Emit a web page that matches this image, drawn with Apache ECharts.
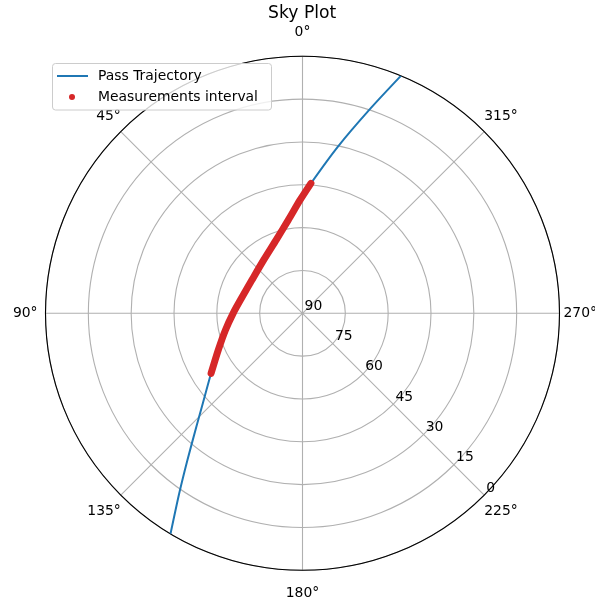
<!DOCTYPE html>
<html>
<head>
<meta charset="utf-8">
<script src="https://cdn.jsdelivr.net/npm/echarts@6/dist/echarts.min.js"></script>
<style>
  html, body { margin: 0; padding: 0; background: #ffffff; }
  #chart { width: 595px; height: 603px; }
</style>
</head>
<body>
<div id="chart"></div>
<script>
// Satellite pass: azimuth (deg) and elevation (deg) along the trajectory
const passAz = [337.5, 341.7, 348.0, 356.3, 1.2, 8.7, 19.7, 36.0, 56.7, 74.9, 90.0, 102.2, 113.6, 123.3, 132.9, 136.9, 141.9, 145.6, 149.1];
const passEl = [0.0, 14.6, 30.3, 44.4, 50.3, 57.0, 62.7, 66.9, 68.8, 68.1, 65.7, 62.4, 57.8, 51.7, 41.9, 35.6, 24.7, 13.6, 0.0];

// Portion of the pass covered by measurements
const measAz = [356.3, 1.2, 8.7, 19.7, 36.0, 56.7, 74.9, 90.0, 102.2, 113.6, 123.3];
const measEl = [44.4, 50.3, 57.0, 62.7, 66.9, 68.8, 68.1, 65.7, 62.4, 57.8, 51.7];

// Axis ticks
const azimuthStep = 45;
const elevationTicks = [0, 15, 30, 45, 60, 75, 90];

const FONT = 'DejaVu Sans';
const CX = 302.5, CY = 313.3, R = 257;

const toPolar = (az, el) => az.map((a, i) => [el[i], a]);

// Azimuth labels sit on a ring around the plot; each compass position gets its own offset
const labelStyle = (padding) => ({ fontFamily: FONT, fontSize: 13.9, color: '#000', padding });
const azLabelKey = { 0: 'n', 45: 'du', 90: 'w', 135: 'dd', 180: 's', 225: 'dd', 270: 'e', 315: 'du' };

const chart = echarts.init(document.getElementById('chart'), null, { renderer: 'canvas' });

chart.setOption({
  backgroundColor: '#ffffff',
  animation: false,
  title: {
    text: 'Sky Plot',
    left: 263,
    top: 0,
    textStyle: { fontFamily: FONT, fontSize: 17.2, fontWeight: 'normal', color: '#000' }
  },
  polar: [
    { center: [CX, CY], radius: R },
    { center: [CX, CY], radius: R }
  ],
  angleAxis: [
    {
      polarIndex: 0,
      type: 'value',
      min: 0,
      max: 360,
      interval: azimuthStep,
      startAngle: 90,
      clockwise: false,
      axisLine: { show: true, lineStyle: { color: '#000', width: 1.1 } },
      axisTick: { show: false },
      axisLabel: {
        show: true,
        margin: 0,
        formatter: (v) => '{' + (azLabelKey[v] || 'n') + '|' + v + '°}',
        fontFamily: FONT,
        fontSize: 13.9,
        color: '#000',
        rich: {
          n: labelStyle([0, 0, 17, 0]),
          s: labelStyle([16, 0, 0, 0]),
          w: labelStyle([0, 8, 0, 0]),
          e: labelStyle([0, 0, 0, 4]),
          du: labelStyle([0, 0, 8, 0]),
          dd: labelStyle([9, 0, 0, 0])
        }
      },
      splitLine: { show: true, lineStyle: { color: '#b0b0b0', width: 1.1 } }
    },
    {
      polarIndex: 1,
      type: 'value',
      min: 0,
      max: 360,
      startAngle: -45,
      show: false
    }
  ],
  radiusAxis: [
    {
      polarIndex: 0,
      type: 'value',
      min: elevationTicks[0],
      max: elevationTicks[elevationTicks.length - 1],
      interval: 15,
      inverse: true,
      axisLine: { show: false },
      axisTick: { show: false },
      axisLabel: { show: false },
      splitLine: { show: true, lineStyle: { color: '#b0b0b0', width: 1.1 } }
    },
    {
      polarIndex: 1,
      type: 'value',
      min: elevationTicks[0],
      max: elevationTicks[elevationTicks.length - 1],
      interval: 15,
      inverse: true,
      z: 5,
      axisLine: { show: false },
      axisTick: { show: false },
      splitLine: { show: false },
      axisLabel: {
        show: true,
        margin: 3,
        formatter: '{e|{value}}',
        fontFamily: FONT,
        fontSize: 13.9,
        color: '#000',
        rich: { e: labelStyle([0, 0, 10, 0]) }
      }
    }
  ],
  graphic: [{
    type: 'rect',
    z: 10,
    shape: { x: 52.5, y: 63.5, width: 219, height: 46.5, r: 3 },
    style: { fill: 'rgba(255,255,255,0.8)', stroke: '#cccccc', lineWidth: 1 }
  }],
  legend: [
    {
      z: 20,
      left: 57,
      top: 69,
      padding: 0,
      itemWidth: 31,
      itemHeight: 14,
      data: [{ name: 'Pass Trajectory', icon: 'path://M0,0H31V2H0Z' }],
      textStyle: { fontFamily: FONT, fontSize: 13.9, color: '#000', padding: [0, 0, 0, 5] }
    },
    {
      z: 20,
      left: 69,
      top: 90,
      padding: 0,
      itemWidth: 6,
      itemHeight: 6,
      data: [{ name: 'Measurements interval', icon: 'circle' }],
      textStyle: { fontFamily: FONT, fontSize: 13.9, color: '#000', padding: [0, 0, 0, 18] }
    }
  ],
  series: [
    {
      name: 'Pass Trajectory',
      type: 'line',
      coordinateSystem: 'polar',
      polarIndex: 0,
      symbol: 'none',
      smooth: 0.25,
      color: '#1f77b4',
      lineStyle: { color: '#1f77b4', width: 2 },
      data: toPolar(passAz, passEl),
      z: 3
    },
    {
      name: 'Measurements interval',
      type: 'line',
      coordinateSystem: 'polar',
      polarIndex: 0,
      symbol: 'none',
      smooth: 0.25,
      color: '#d62728',
      lineStyle: { color: '#d62728', width: 7, cap: 'round', join: 'round' },
      data: toPolar(measAz, measEl),
      z: 4
    }
  ]
});
</script>
</body>
</html>
